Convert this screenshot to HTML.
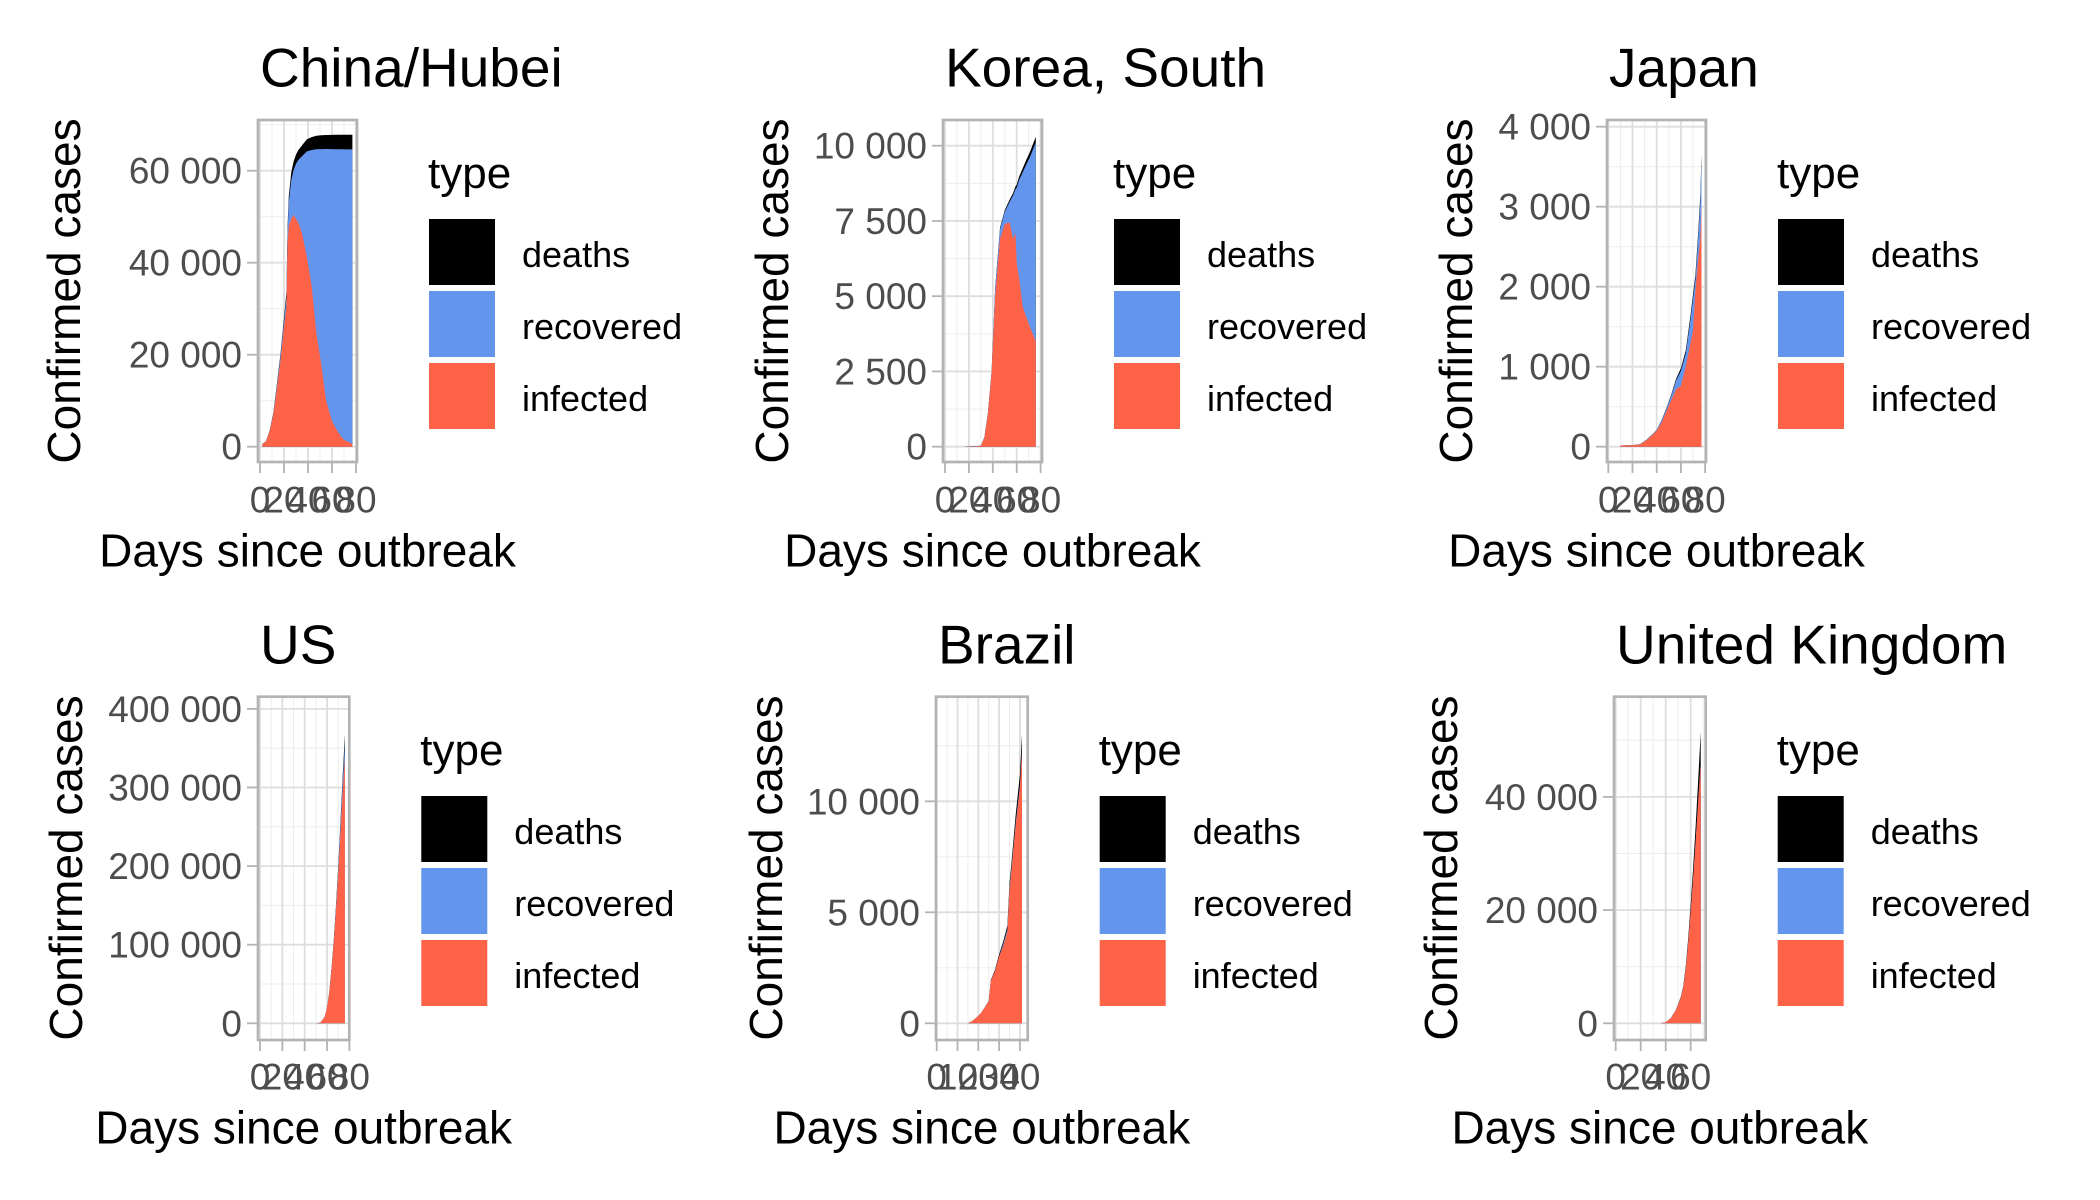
<!DOCTYPE html>
<html><head><meta charset="utf-8"><style>
html,body{margin:0;padding:0;background:#fff;}
svg{display:block;font-family:"Liberation Sans",Arial,sans-serif;}
</style></head><body>
<svg id="chart" xmlns="http://www.w3.org/2000/svg" width="2100" height="1200" viewBox="0 0 2100 1200"></svg>
<script>
// ---- data (cumulative components per country) ----
const countries = ["China/Hubei","Korea, South","Japan","US","Brazil","United Kingdom"];

const chinaDays = [2,5,8,11,14,17,20,22,23,24,26,28,30,32,35,39,43,47,51,55,60,64,68,72,77];
const chinaInfected = [560,1130,3300,6800,12500,18500,26000,30400,44500,48000,49500,50400,49500,48600,46400,41300,35000,24600,18000,10100,5500,3600,2000,1200,600];
const chinaRecovered = [20,30,100,200,640,950,1200,2000,2200,5100,8400,9800,12000,13750,16750,22900,29500,40050,46700,54610,59190,61070,62650,63440,64030];
const chinaDeaths = [20,40,100,200,360,550,800,1100,1300,1400,1600,1800,2000,2150,2350,2600,2800,2950,3000,3050,3100,3130,3150,3160,3170];

const koreaDays = [17,25,30,33,36,39,42,46,50,54,57,59,60,62,65,68,71,76];
const koreaInfected = [5,10,30,300,1100,2450,5000,6900,7400,7450,6900,7100,6100,5600,4650,4300,3990,3500];
const koreaRecovered = [0,2,5,18,40,35,270,320,400,680,1450,1460,2505,3260,4470,5080,5620,6610];
const koreaDeaths = [0,0,0,2,10,15,30,50,60,70,80,90,95,110,130,150,170,190];

const japanDays = [10,20,26,31,36,40,44,48,52,56,60,64,68,70,72,74,76,77];
const japanInfected = [15,20,28,75,140,200,300,440,580,720,760,1000,1300,1450,1950,2300,2600,3000];
const japanRecovered = [0,0,2,4,8,7,24,30,55,108,190,160,300,395,140,235,455,570];
const japanDeaths = [0,0,0,1,2,3,6,10,15,22,30,40,50,55,60,65,75,80];

const usDays = [50,54,58,60,62,64,66,68,70,72,74,76];
const usInfected = [95,770,8300,19600,39200,68100,101500,143600,188500,240000,294000,337000];
const usRecovered = [5,10,100,150,300,1000,2000,4000,7000,10000,14000,20000];
const usDeaths = [0,20,100,250,500,900,1500,2400,3500,5000,7000,10000];

const brazilDays = [15,17,19,21,23,25,26,28,30,32,34,35,36,38,40,41];
const brazilInfected = [2,99,248,425,688,973,1909,2334,3004,3480,4120,5980,6940,8913,10593,12220];
const brazilRecovered = [0,1,2,2,2,2,6,6,6,100,120,120,120,127,127,130];
const brazilDeaths = [0,0,0,3,10,25,35,60,90,120,160,200,240,360,480,650];

const ukDays = [36,40,44,48,52,54,56,58,60,62,64,66,68];
const ukInfected = [20,190,872,2232,4410,6210,9470,14120,19665,25760,32250,39130,45970];
const ukRecovered = [0,8,18,18,50,60,70,80,135,140,150,170,230];
const ukDeaths = [0,2,10,50,140,230,460,800,1200,1800,2600,3700,5300];

const chinaYTicks = [0,20000,40000,60000];
const chinaYLabels = ["0","20 000","40 000","60 000"];
const koreaYTicks = [0,2500,5000,7500,10000];
const koreaYLabels = ["0","2 500","5 000","7 500","10 000"];
const japanYTicks = [0,1000,2000,3000,4000];
const japanYLabels = ["0","1 000","2 000","3 000","4 000"];
const usYTicks = [0,100000,200000,300000,400000];
const usYLabels = ["0","100 000","200 000","300 000","400 000"];
const brazilYTicks = [0,5000,10000];
const brazilYLabels = ["0","5 000","10 000"];
const ukYTicks = [0,20000,40000];
const ukYLabels = ["0","20 000","40 000"];

const xTicks80 = [0,20,40,60,80];
const xTicks40 = [0,10,20,30,40];
const xTicks60 = [0,20,40,60];

const legendTypes = ["deaths","recovered","infected"];
const legendColors = ["#000000","#6495ED","#FF6347"];

// ---- layout (pixel geometry, not data) ----
const panels = [
 {name:"china", title:countries[0], L:258,R:357,T:120,B:462, x0:260,xs:1.2, y0:446.7,ys:0.0046, yt:80,
  days:chinaDays,inf:chinaInfected,rec:chinaRecovered,dea:chinaDeaths,yTicks:chinaYTicks,yLabels:chinaYLabels,xTicks:xTicks80},
 {name:"korea", title:countries[1], L:943,R:1042,T:120,B:462, x0:945,xs:1.195, y0:446.7,ys:0.0301, yt:788,
  days:koreaDays,inf:koreaInfected,rec:koreaRecovered,dea:koreaDeaths,yTicks:koreaYTicks,yLabels:koreaYLabels,xTicks:xTicks80},
 {name:"japan", title:countries[2], L:1607,R:1706,T:120,B:462, x0:1608.3,xs:1.21, y0:446.7,ys:0.08, yt:1472,
  days:japanDays,inf:japanInfected,rec:japanRecovered,dea:japanDeaths,yTicks:japanYTicks,yLabels:japanYLabels,xTicks:xTicks80},
 {name:"us", title:countries[3], L:258,R:349.3,T:696.7,B:1040, x0:260,xs:1.117, y0:1023.3,ys:0.000786, yt:82,
  days:usDays,inf:usInfected,rec:usRecovered,dea:usDeaths,yTicks:usYTicks,yLabels:usYLabels,xTicks:xTicks80},
 {name:"brazil", title:countries[4], L:936,R:1027.7,T:696.7,B:1040, x0:936.7,xs:2.08, y0:1023.3,ys:0.0222, yt:782,
  days:brazilDays,inf:brazilInfected,rec:brazilRecovered,dea:brazilDeaths,yTicks:brazilYTicks,yLabels:brazilYLabels,xTicks:xTicks40},
 {name:"uk", title:countries[5], L:1614,R:1705.7,T:696.7,B:1040, x0:1615.7,xs:1.25, y0:1023.3,ys:0.00566, yt:1457,
  days:ukDays,inf:ukInfected,rec:ukRecovered,dea:ukDeaths,yTicks:ukYTicks,yLabels:ukYLabels,xTicks:xTicks60}
];

const NS="http://www.w3.org/2000/svg";
const svg=document.getElementById('chart');
function mk(tag,attrs,parent){const e=document.createElementNS(NS,tag);for(const k in attrs)e.setAttribute(k,attrs[k]);(parent||svg).appendChild(e);return e;}

panels.forEach(p=>{
  const g=mk('g',{});
  
  
  const xScale=d=>p.x0+d*p.xs;
  const yScale=v=>p.y0-v*p.ys;
  const rowOff = p.T>300 ? 577 : 0;
  mk('rect',{x:p.L,y:p.T,width:p.R-p.L,height:p.B-p.T,fill:'#fff'},g);
  const xt=p.xTicks, yt=p.yTicks;
  const xstep=xt[1]-xt[0], ystep=yt[1]-yt[0];
  for(let v=xt[0]-xstep/2; v<=xt[xt.length-1]+xstep; v+=xstep){
    const x=xScale(v); if(x>p.L+1&&x<p.R-1) mk('line',{x1:x,x2:x,y1:p.T,y2:p.B,stroke:'#ededed','stroke-width':1},g);
  }
  for(let v=yt[0]-ystep/2; v<=yt[yt.length-1]+ystep*2; v+=ystep){
    const y=yScale(v); if(y>p.T+1&&y<p.B-1) mk('line',{x1:p.L,x2:p.R,y1:y,y2:y,stroke:'#ededed','stroke-width':1},g);
  }
  xt.forEach(v=>{const x=xScale(v); mk('line',{x1:x,x2:x,y1:p.T,y2:p.B,stroke:'#dedede','stroke-width':1.8},g);});
  yt.forEach(v=>{const y=yScale(v); mk('line',{x1:p.L,x2:p.R,y1:y,y2:y,stroke:'#dedede','stroke-width':1.8},g);});
  function area(vals,color,nm){
    let pts=[];
    p.days.forEach((d,i)=>{pts.push(xScale(d).toFixed(1)+','+yScale(vals[i]).toFixed(1));});
    pts.push(xScale(p.days[p.days.length-1]).toFixed(1)+','+yScale(0).toFixed(1));
    pts.push(xScale(p.days[0]).toFixed(1)+','+yScale(0).toFixed(1));
    const el=mk('polygon',{points:pts.join(' '),fill:color},g);
    
    
  }
  const tot=p.days.map((d,i)=>p.inf[i]+p.rec[i]+p.dea[i]);
  const ir=p.days.map((d,i)=>p.inf[i]+p.rec[i]);
  area(tot,'#000000','deaths');
  area(ir,'#6495ED','recovered');
  area(p.inf,'#FF6347','infected');
  mk('rect',{x:p.L,y:p.T,width:p.R-p.L,height:p.B-p.T,fill:'none',stroke:'#b3b3b3','stroke-width':2.7},g);
  yt.forEach((v,i)=>{
    const y=yScale(v);
    mk('line',{x1:p.L-11,x2:p.L,y1:y,y2:y,stroke:'#b3b3b3','stroke-width':1.8},g);
    const t=mk('text',{x:p.L-16,y:y+13,'text-anchor':'end','font-size':37,fill:'#4d4d4d'},g);
    t.textContent=p.yLabels[i];
    
    
  });
  xt.forEach(v=>{
    const x=xScale(v);
    mk('line',{x1:x,x2:x,y1:p.B,y2:p.B+11,stroke:'#b3b3b3','stroke-width':1.8},g);
    const t=mk('text',{x:x,y:512.5+rowOff,'text-anchor':'middle','font-size':37,fill:'#4d4d4d'},g);
    t.textContent=String(v);
    
    
  });
  const tt=mk('text',{x:p.L+2,y:86.5+rowOff,'font-size':55,fill:'#000'},g);
  tt.textContent=p.title;
  
  
  const xa=mk('text',{x:(p.L+p.R)/2,y:566.7+rowOff,'text-anchor':'middle','font-size':46,fill:'#000'},g);
  xa.textContent='Days since outbreak';
  
  
  const cy=291+rowOff;
  const ya=mk('text',{x:p.yt,y:cy,'text-anchor':'middle','font-size':46,fill:'#000',transform:'rotate(-90 '+p.yt+' '+cy+')'},g);
  ya.textContent='Confirmed cases';
  
  
  const lx=p.R+72;
  const lg=mk('g',{},g);
  
  
  const lt=mk('text',{x:lx-1,y:188+rowOff,'font-size':44,fill:'#000'},lg);
  lt.textContent='type';
  legendTypes.forEach((ty,i)=>{
    const ky=219+rowOff+i*72;
    const r=mk('rect',{x:lx,y:ky,width:66,height:66,fill:legendColors[i]},lg);
    
    
    const tl=mk('text',{x:lx+93,y:ky+48,'font-size':36,fill:'#000'},lg);
    tl.textContent=ty;
    
    
  });
});
</script>
</body></html>
